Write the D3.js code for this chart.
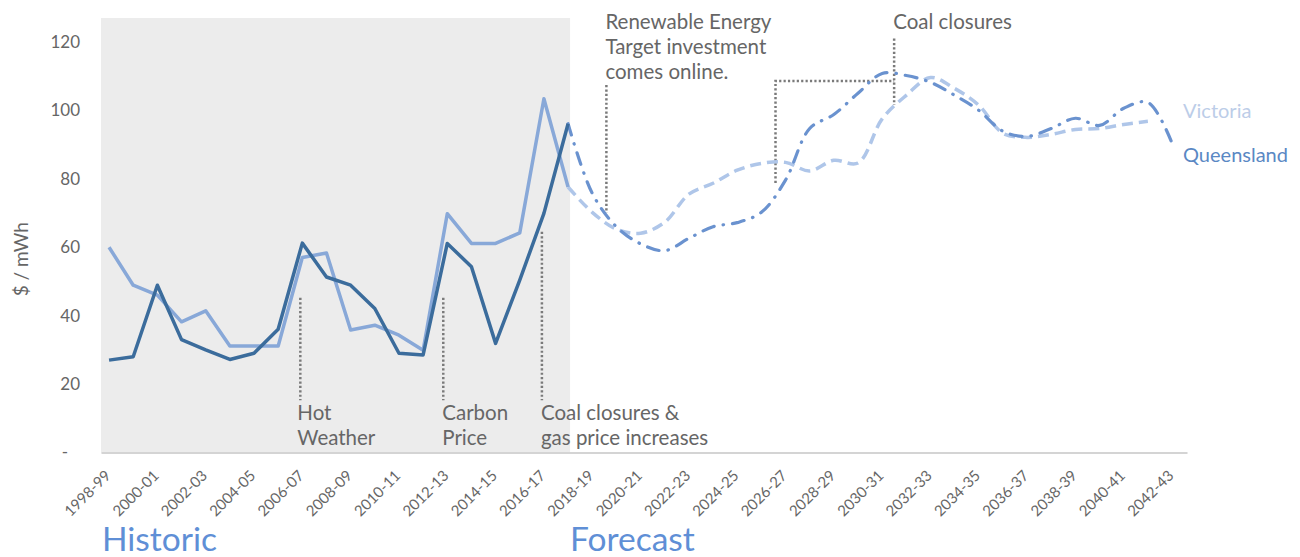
<!DOCTYPE html>
<html>
<head>
<meta charset="utf-8">
<script src="https://cdn.jsdelivr.net/npm/d3@7"></script>
<style>
  html, body { margin: 0; padding: 0; background: #fff; }
  svg { display: block; font-family: Lato, "Open Sans", sans-serif; }
</style>
</head>
<body>
<svg id="chart" width="1300" height="557"></svg>
<script>
// Financial years shown on the category axis
const years = [
  "1998-99","1999-00","2000-01","2001-02","2002-03","2003-04","2004-05","2005-06",
  "2006-07","2007-08","2008-09","2009-10","2010-11","2011-12","2012-13","2013-14",
  "2014-15","2015-16","2016-17","2017-18","2018-19","2019-20","2020-21","2021-22",
  "2022-23","2023-24","2024-25","2025-26","2026-27","2027-28","2028-29","2029-30",
  "2030-31","2031-32","2032-33","2033-34","2034-35","2035-36","2036-37","2037-38",
  "2038-39","2039-40","2040-41","2041-42","2042-43"
];
const historicYears = years.slice(0, 20);   // 1998-99 .. 2017-18
const forecastYears = years.slice(19);      // 2017-18 .. 2042-43 (joins the historic series)

// Wholesale prices, $ / MWh
const qldHistoric = [27, 28, 48.9, 33, 30, 27.2, 29, 36, 61.2, 51.3, 48.9, 42.1, 29, 28.5, 61.1, 54.3, 31.9, 50.4, 69.9, 96.1];
const vicHistoric = [60, 48.9, 46, 38.2, 41.4, 31.1, 31.1, 31.1, 57, 58.3, 35.8, 37.2, 34.3, 29.9, 69.8, 61.1, 61.1, 64.2, 103.4, 77.6];

// Forecasts from 2018-19 onwards
const qldForecast = [75.8, 66, 61, 59, 62.6, 66, 67.2, 70.2, 79.6, 94.7, 98.8, 105, 110.8, 110.2, 108.2, 104.4, 100, 93.9, 92.4, 94.7, 97.7, 95.6, 100.6, 102.3, 90.4];
const vicForecast = [70.2, 65.3, 64.1, 67.3, 75.5, 78.7, 82.5, 84.5, 84.8, 82.3, 85.4, 84.6, 97.5, 104.4, 109.6, 106.4, 101.5, 93.3, 92.1, 93, 94.4, 94.7, 95.9, 96.8];

const yTicks = [0, 20, 40, 60, 80, 100, 120];
const xTickLabels = years.filter((d, i) => i % 2 === 0);

const colors = {
  qldHist: "#3b6c9c",
  vicHist: "#88a8d8",
  qldFore: "#6a92cf",
  vicFore: "#afc6e9",
  qldLabel: "#5a88c4",
  vicLabel: "#bccde8",
  period: "#5f8fd6",
  text: "#666666",
  guide: "#7a7a7a",
  shade: "#ececec",
  axis: "#d4d4d4"
};

const svg = d3.select("#chart");

const x = d3.scalePoint().domain(years).range([101, 1187]).padding(0.476).align(0.35);
const y = d3.scaleLinear().domain([0, 127]).range([452.5, 18]);

// Shaded historic period
svg.append("rect")
  .attr("x", x.range()[0])
  .attr("y", y(127))
  .attr("width", x("2017-18") + 2 - x.range()[0])
  .attr("height", y(0) - y(127))
  .attr("fill", colors.shade);

// Y axis labels
const yAxis = svg.append("g")
  .attr("transform", `translate(80,0)`)
  .call(d3.axisLeft(y).tickValues(yTicks).tickSize(0).tickPadding(0)
    .tickFormat(d => d === 0 ? "-" : d));
yAxis.select(".domain").remove();
yAxis.selectAll("text")
  .attr("fill", colors.text)
  .style("font-size", "17px")
  .style("font-family", "Lato, sans-serif")
  .attr("dx", d => d === 0 ? -12 : 0);

svg.append("text")
  .attr("transform", `translate(28,${y(56.5)}) rotate(-90)`)
  .attr("text-anchor", "middle")
  .attr("fill", colors.text)
  .style("font-size", "19px")
  .text("$ / mWh");

// X axis
const xAxis = svg.append("g")
  .attr("transform", `translate(0,${y(0)})`)
  .call(d3.axisBottom(x).tickValues(xTickLabels).tickSize(0).tickSizeOuter(0).tickPadding(0));
xAxis.select(".domain").attr("stroke", colors.axis).attr("stroke-width", 2);
xAxis.selectAll("text")
  .attr("fill", colors.text)
  .style("font-size", "15px")
  .style("font-family", "Lato, sans-serif")
  .attr("text-anchor", "end")
  .attr("dy", null)
  .attr("y", null)
  .attr("transform", "translate(2,24) rotate(-45)");

// Guide lines for annotations
const guide = (pts) => svg.append("path")
  .attr("d", d3.line()(pts))
  .attr("fill", "none")
  .attr("stroke", colors.guide)
  .attr("stroke-width", 2.5)
  .attr("stroke-dasharray", "2.2,2.2");

const hotX = x("2006-07") - 2;
const carbonX = x("2012-13") - 4;
const gasX = x("2016-17") - 2;
const retX = x("2019-20") - 10;
const coalX = x("2030-31") + 12;
const coalX2 = x("2026-27") - 10;

guide([[hotX, y(45.2)], [hotX, y(15.3)]]);
guide([[carbonX, y(45.2)], [carbonX, y(15.3)]]);
guide([[gasX, y(64.5)], [gasX, y(15.3)]]);
guide([[retX, y(107.4)], [retX, y(70)]]);
guide([[coalX, y(121)], [coalX, y(101.6)]]);
guide([[coalX2, y(78.8)], [coalX2, y(108.6)], [coalX, y(108.6)]]);

// Annotation text
const note = (tx, ty, lines) => {
  const t = svg.append("text")
    .attr("fill", colors.text)
    .style("font-size", "20.5px");
  lines.forEach((l, i) => t.append("tspan").attr("x", tx).attr("y", ty + i * 25).text(l));
};
note(hotX - 3, 420, ["Hot", "Weather"]);
note(carbonX - 1, 420, ["Carbon", "Price"]);
note(gasX - 1, 420, ["Coal closures &", "gas price increases"]);
note(retX - 1, 29, ["Renewable Energy", "Target investment", "comes online."]);
note(coalX - 1, 29, ["Coal closures"]);

// Series lines
const histLine = d3.line().x(d => x(d.year)).y(d => y(d.value));
const foreLine = d3.line().x(d => x(d.year)).y(d => y(d.value)).curve(d3.curveCatmullRom.alpha(0.5));

const zip = (ys, vs) => vs.map((v, i) => ({ year: ys[i], value: v }));

svg.append("path")
  .datum(zip(forecastYears, [vicHistoric[19], ...vicForecast]))
  .attr("d", foreLine)
  .attr("fill", "none")
  .attr("stroke", colors.vicFore)
  .attr("stroke-width", 3.5)
  .attr("stroke-dasharray", "11,6");

svg.append("path")
  .datum(zip(forecastYears, [qldHistoric[19], ...qldForecast]))
  .attr("d", foreLine)
  .attr("fill", "none")
  .attr("stroke", colors.qldFore)
  .attr("stroke-width", 3.2)
  .attr("stroke-linecap", "round")
  .attr("stroke-dasharray", "12,9,0.5,9");

svg.append("path")
  .datum(zip(historicYears, vicHistoric))
  .attr("d", histLine)
  .attr("fill", "none")
  .attr("stroke", colors.vicHist)
  .attr("stroke-width", 3.5)
  .attr("stroke-linejoin", "round");

svg.append("path")
  .datum(zip(historicYears, qldHistoric))
  .attr("d", histLine)
  .attr("fill", "none")
  .attr("stroke", colors.qldHist)
  .attr("stroke-width", 3.5)
  .attr("stroke-linejoin", "round");

// Series labels
svg.append("text").attr("x", 1183).attr("y", 118)
  .attr("fill", colors.vicLabel).style("font-size", "20px").text("Victoria");
svg.append("text").attr("x", 1183).attr("y", 162)
  .attr("fill", colors.qldLabel).style("font-size", "20px").text("Queensland");

// Period labels
svg.append("text").attr("x", 102).attr("y", 551)
  .attr("fill", colors.period).style("font-size", "33.5px").text("Historic");
svg.append("text").attr("x", 570).attr("y", 551)
  .attr("fill", colors.period).style("font-size", "33.5px").text("Forecast");
</script>
</body>
</html>
